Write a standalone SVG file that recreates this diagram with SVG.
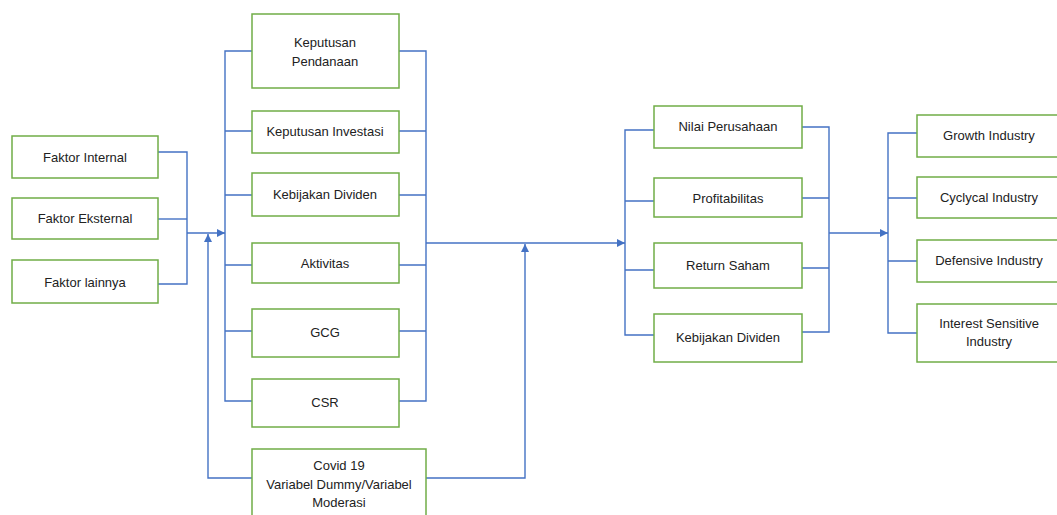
<svg xmlns="http://www.w3.org/2000/svg" width="1057" height="515" viewBox="0 0 1057 515">
<style>
.box{fill:#fff;stroke:#70AD47;stroke-width:1.5}
.ln{fill:none;stroke:#4472C4;stroke-width:1.4}
text{font-family:"Liberation Sans",Arial,sans-serif;font-size:13px;fill:#222;text-anchor:middle;dominant-baseline:central}
</style>
<defs>
<marker id="ar" viewBox="0 0 10 10" refX="10" refY="5" markerWidth="8" markerHeight="8" markerUnits="userSpaceOnUse" orient="auto">
<path d="M0,0 L10,5 L0,10 z" fill="#4472C4"/>
</marker>
</defs>
<rect width="1057" height="515" fill="#fff"/>
<g id="connectors">
<path class="ln" d="M158,152 H187 V284 H158"/>
<path class="ln" d="M158,219 H187"/>
<path class="ln" d="M187,233 H225" marker-end="url(#ar)"/>
<path class="ln" d="M252,478 H208 V234" marker-end="url(#ar)"/>
<path class="ln" d="M252,51 H225 V401 H252 M225,131 H252 M225,195 H252 M225,265 H252 M225,331 H252"/>
<path class="ln" d="M399,51 H426 V401 H399 M399,131 H426 M399,195 H426 M399,265 H426 M399,331 H426"/>
<path class="ln" d="M426,243 H625" marker-end="url(#ar)"/>
<path class="ln" d="M426,478 H525 V244" marker-end="url(#ar)"/>
<path class="ln" d="M654,130 H625 V335 H654 M625,201 H654 M625,270 H654"/>
<path class="ln" d="M802,127 H829 V332 H802 M802,198 H829 M802,268 H829"/>
<path class="ln" d="M829,233 H888" marker-end="url(#ar)"/>
<path class="ln" d="M917,133 H888 V333 H917 M888,198 H917 M888,261 H917"/>
</g>
<g id="faktor-internal"><rect class="box" x="12" y="136" width="146" height="42"/><text x="85" y="157">Faktor Internal</text></g>
<g id="faktor-eksternal"><rect class="box" x="12" y="198" width="146" height="41"/><text x="85" y="218">Faktor Eksternal</text></g>
<g id="faktor-lainnya"><rect class="box" x="12" y="260" width="146" height="43"/><text x="85" y="282">Faktor lainnya</text></g>
<g id="keputusan-pendanaan"><rect class="box" x="252" y="14" width="147" height="74"/><text x="325" y="42">Keputusan</text><text x="325" y="61">Pendanaan</text></g>
<g id="keputusan-investasi"><rect class="box" x="252" y="111" width="147" height="42"/><text x="325" y="131">Keputusan Investasi</text></g>
<g id="kebijakan-dividen-1"><rect class="box" x="252" y="173" width="147" height="43"/><text x="325" y="194">Kebijakan Dividen</text></g>
<g id="aktivitas"><rect class="box" x="252" y="243" width="147" height="40"/><text x="325" y="263">Aktivitas</text></g>
<g id="gcg"><rect class="box" x="252" y="309" width="147" height="48"/><text x="325" y="332">GCG</text></g>
<g id="csr"><rect class="box" x="252" y="379" width="147" height="48"/><text x="325" y="402">CSR</text></g>
<g id="covid"><rect class="box" x="252" y="449" width="174" height="75"/><text x="339" y="465">Covid 19</text><text x="339" y="484">Variabel Dummy/Variabel</text><text x="339" y="502">Moderasi</text></g>
<g id="nilai-perusahaan"><rect class="box" x="654" y="106" width="148" height="42"/><text x="728" y="126">Nilai Perusahaan</text></g>
<g id="profitabilitas"><rect class="box" x="654" y="178" width="148" height="39"/><text x="728" y="198">Profitabilitas</text></g>
<g id="return-saham"><rect class="box" x="654" y="243" width="148" height="45"/><text x="728" y="265">Return Saham</text></g>
<g id="kebijakan-dividen-2"><rect class="box" x="654" y="314" width="148" height="48"/><text x="728" y="337">Kebijakan Dividen</text></g>
<g id="growth"><rect class="box" x="917" y="115" width="146" height="42"/><text x="989" y="135">Growth Industry</text></g>
<g id="cyclycal"><rect class="box" x="917" y="177" width="146" height="41"/><text x="989" y="197">Cyclycal Industry</text></g>
<g id="defensive"><rect class="box" x="917" y="240" width="146" height="42"/><text x="989" y="260">Defensive Industry</text></g>
<g id="interest"><rect class="box" x="917" y="304" width="146" height="58"/><text x="989" y="323">Interest Sensitive</text><text x="989" y="341">Industry</text></g>
</svg>
